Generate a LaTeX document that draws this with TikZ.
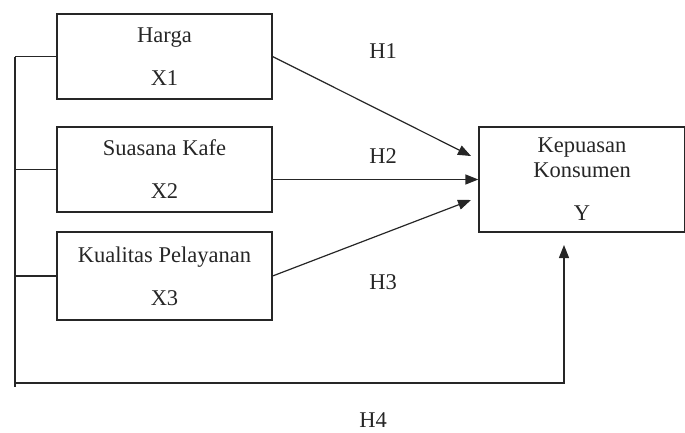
\documentclass[tikz,border=0pt]{standalone}
\usepackage{fontspec}
\setmainfont{Liberation Serif}
\usetikzlibrary{arrows.meta}

\tikzset{
  varbox/.style={draw,line width=1.2pt,rectangle,minimum width=215pt,align=center,
    font=\fontsize{22.5pt}{25pt}\selectfont},
  hlabel/.style={font=\fontsize{22.5pt}{25pt}\selectfont},
  arr/.style={-{Triangle[length=13pt,width=10pt]}},
}

\begin{document}
\begin{tikzpicture}
[x=1pt,y=-1pt,line width=1.2pt,color=black!85]
\useasboundingbox (0,0) rectangle (685,432);
\node[varbox,minimum height=85pt] (x1) at (164.5,56.5) {Harga\\[18pt]X1};
\node[varbox,minimum height=85pt] (x2) at (164.5,169.5) {Suasana Kafe\\[18pt]X2};
\node[varbox,minimum height=88pt] (x3) at (164.5,276) {Kualitas Pelayanan\\[18pt]X3};
\node[varbox,minimum width=206pt,minimum height=105pt] (y) at (582,179.5) {Kepuasan\\Konsumen\\[18pt]Y};
\node[hlabel] (h1) at (383,51) {H1};
\node[hlabel] (h2) at (383,156) {H2};
\node[hlabel] (h3) at (383,282) {H3};
\node[hlabel] (h4) at (373,420) {H4};
\coordinate (e1) at (471,156);
\coordinate (e3) at (471,200);
\coordinate (top) at (15,53);
\coordinate (bot) at (15,387);
\coordinate (corner) at (564,383);
\coordinate (e4) at (564,245);
% paths to Y
\draw[arr] (x1.east) -- (e1);
\draw[arr] (x2.east |- y.west) -- (y.west);
\draw[arr] (x3.east) -- (e3);
% simultaneous path
\draw (top |- x1.west) -- (bot);
\draw (x1.west -| top) -- (x1.west);
\draw (x2.west -| top) -- (x2.west);
\draw (x3.west -| top) -- (x3.west);
\draw[arr] (15,383) -- (corner) -- (e4);
\end{tikzpicture}
\end{document}
